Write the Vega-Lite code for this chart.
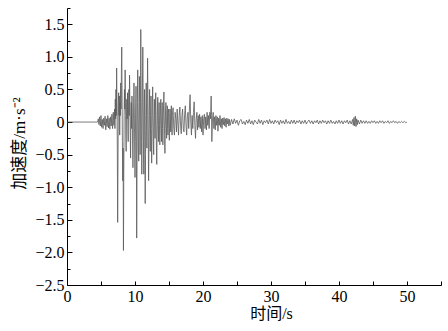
{
  "$schema": "https://vega.github.io/schema/vega-lite/v6.json",
  "width": 374,
  "height": 277,
  "autosize": {"type": "none"},
  "padding": {"left": 67, "top": 8, "right": 7, "bottom": 46},
  "background": "white",
  "config": {"view": {"stroke": null}},
  "data": {"values": [
    {"t":0,"a":0},{"t":4.5,"a":0},{"t":4.6,"a":0.05},{"t":4.7,"a":-0.04},{"t":4.8,"a":0.08},{"t":4.9,"a":-0.06},
    {"t":5.0,"a":0.1},{"t":5.1,"a":-0.08},{"t":5.2,"a":0.04},{"t":5.3,"a":-0.1},{"t":5.4,"a":0.06},{"t":5.5,"a":-0.05},
    {"t":5.6,"a":0.09},{"t":5.7,"a":-0.12},{"t":5.8,"a":0.05},{"t":5.9,"a":-0.07},{"t":6.0,"a":0.1},{"t":6.1,"a":-0.09},
    {"t":6.2,"a":0.06},{"t":6.3,"a":-0.11},{"t":6.4,"a":0.08},{"t":6.5,"a":-0.06},{"t":6.6,"a":0.12},{"t":6.7,"a":-0.1},
    {"t":6.8,"a":0.15},{"t":6.9,"a":-0.05},
    {"t":7.00,"a":0.2},{"t":7.05,"a":-0.1},{"t":7.10,"a":0.35},{"t":7.15,"a":0.05},{"t":7.20,"a":0.5},{"t":7.25,"a":0.1},
    {"t":7.30,"a":0.83},{"t":7.35,"a":0.3},{"t":7.40,"a":-0.4},{"t":7.45,"a":-1.54},{"t":7.50,"a":-0.6},{"t":7.55,"a":0.3},
    {"t":7.60,"a":0.45},{"t":7.65,"a":0.1},{"t":7.70,"a":0.4},{"t":7.75,"a":-0.2},{"t":7.80,"a":0.3},{"t":7.85,"a":0.1},
    {"t":7.90,"a":0.6},{"t":7.95,"a":0.2},{"t":8.00,"a":0.75},{"t":8.05,"a":1.15},{"t":8.10,"a":0.4},{"t":8.15,"a":-0.3},
    {"t":8.20,"a":-0.9},{"t":8.25,"a":-0.4},{"t":8.30,"a":-1.97},{"t":8.35,"a":-0.8},{"t":8.40,"a":0.1},{"t":8.45,"a":0.5},
    {"t":8.50,"a":0.2},{"t":8.55,"a":0.8},{"t":8.60,"a":0.3},{"t":8.65,"a":-0.2},{"t":8.70,"a":-0.45},{"t":8.75,"a":0.1},
    {"t":8.80,"a":0.35},{"t":8.85,"a":0.05},{"t":8.90,"a":0.45},{"t":8.95,"a":-0.1},{"t":9.00,"a":-0.3},{"t":9.05,"a":0.2},
    {"t":9.10,"a":0.5},{"t":9.15,"a":0.1},{"t":9.20,"a":0.72},{"t":9.25,"a":0.25},{"t":9.30,"a":-0.2},{"t":9.35,"a":-0.55},
    {"t":9.40,"a":0.05},{"t":9.45,"a":0.3},{"t":9.50,"a":-0.1},{"t":9.55,"a":0.4},{"t":9.60,"a":0.15},{"t":9.65,"a":-0.35},
    {"t":9.70,"a":-0.7},{"t":9.75,"a":-0.2},{"t":9.80,"a":0.3},{"t":9.85,"a":0.6},{"t":9.90,"a":0.2},{"t":9.95,"a":-0.4},
    {"t":10.00,"a":-0.85},{"t":10.05,"a":-0.3},{"t":10.10,"a":0.2},{"t":10.15,"a":0.55},{"t":10.20,"a":-0.2},{"t":10.25,"a":-1.78},
    {"t":10.30,"a":-0.7},{"t":10.35,"a":0.3},{"t":10.40,"a":0.8},{"t":10.45,"a":0.2},{"t":10.50,"a":-0.4},{"t":10.55,"a":-0.6},
    {"t":10.60,"a":0.1},{"t":10.65,"a":0.7},{"t":10.70,"a":0.3},{"t":10.75,"a":-0.5},{"t":10.80,"a":0.2},{"t":10.85,"a":1.42},
    {"t":10.90,"a":0.6},{"t":10.95,"a":-0.3},{"t":11.00,"a":-0.8},{"t":11.05,"a":-0.2},{"t":11.10,"a":0.6},{"t":11.15,"a":1.15},
    {"t":11.20,"a":0.4},{"t":11.25,"a":-0.5},{"t":11.30,"a":-0.8},{"t":11.35,"a":0.1},{"t":11.40,"a":0.5},{"t":11.45,"a":-0.3},
    {"t":11.50,"a":-1.25},{"t":11.55,"a":-0.5},{"t":11.60,"a":0.2},{"t":11.65,"a":0.6},{"t":11.70,"a":0.1},{"t":11.75,"a":-0.4},
    {"t":11.80,"a":0.3},{"t":11.85,"a":0.98},{"t":11.90,"a":0.4},{"t":11.95,"a":-0.3},{"t":12.00,"a":-0.9},{"t":12.05,"a":-0.4},
    {"t":12.10,"a":0.2},{"t":12.15,"a":0.5},{"t":12.20,"a":0.0},{"t":12.25,"a":-0.45},{"t":12.30,"a":0.1},{"t":12.35,"a":0.4},
    {"t":12.40,"a":-0.1},{"t":12.45,"a":-0.63},{"t":12.50,"a":-0.2},{"t":12.55,"a":0.3},{"t":12.60,"a":0.54},{"t":12.65,"a":0.1},
    {"t":12.70,"a":-0.3},{"t":12.75,"a":-0.5},{"t":12.80,"a":0.0},{"t":12.85,"a":0.35},{"t":12.90,"a":0.1},{"t":12.95,"a":-0.25},
    {"t":13.00,"a":0.2},{"t":13.05,"a":0.45},{"t":13.10,"a":0.05},{"t":13.15,"a":-0.4},{"t":13.20,"a":-0.65},{"t":13.25,"a":-0.2},
    {"t":13.30,"a":0.2},{"t":13.35,"a":0.38},{"t":13.40,"a":0.0},{"t":13.45,"a":-0.3},{"t":13.50,"a":0.1},{"t":13.55,"a":0.3},
    {"t":13.60,"a":-0.05},{"t":13.65,"a":-0.35},{"t":13.70,"a":-0.1},{"t":13.75,"a":0.25},{"t":13.80,"a":0.35},{"t":13.85,"a":-0.05},
    {"t":13.90,"a":-0.3},{"t":13.95,"a":0.05},{"t":14.00,"a":0.3},{"t":14.05,"a":-0.1},{"t":14.10,"a":-0.35},{"t":14.15,"a":0.0},
    {"t":14.20,"a":0.25},{"t":14.25,"a":0.46},{"t":14.30,"a":0.1},{"t":14.35,"a":-0.2},{"t":14.40,"a":-0.48},{"t":14.45,"a":-0.1},
    {"t":14.50,"a":0.2},{"t":14.55,"a":0.3},{"t":14.60,"a":-0.05},{"t":14.65,"a":-0.25},{"t":14.70,"a":0.1},{"t":14.75,"a":0.25},
    {"t":14.80,"a":-0.1},{"t":14.85,"a":-0.2},{"t":14.90,"a":0.15},{"t":14.95,"a":0.2},{"t":15.00,"a":-0.1},{"t":15.05,"a":-0.28},
    {"t":15.10,"a":0.0},{"t":15.15,"a":0.2},{"t":15.20,"a":0.05},{"t":15.25,"a":-0.15},{"t":15.30,"a":0.15},{"t":15.35,"a":0.25},
    {"t":15.40,"a":-0.05},{"t":15.45,"a":-0.2},
    {"t":15.5,"a":0.1},{"t":15.6,"a":0.22},{"t":15.7,"a":-0.1},{"t":15.8,"a":-0.2},{"t":15.9,"a":0.15},{"t":16.0,"a":0.05},
    {"t":16.1,"a":-0.15},{"t":16.2,"a":0.2},{"t":16.3,"a":0.0},{"t":16.4,"a":-0.2},{"t":16.5,"a":0.1},{"t":16.6,"a":0.23},
    {"t":16.7,"a":-0.05},{"t":16.8,"a":-0.18},{"t":16.9,"a":0.1},{"t":17.0,"a":0.2},{"t":17.1,"a":-0.1},{"t":17.2,"a":-0.15},
    {"t":17.3,"a":0.12},{"t":17.4,"a":0.25},{"t":17.5,"a":-0.05},{"t":17.6,"a":-0.2},{"t":17.7,"a":0.1},{"t":17.8,"a":0.15},
    {"t":17.9,"a":-0.1},{"t":18.0,"a":0.2},{"t":18.1,"a":0.42},{"t":18.2,"a":0.0},{"t":18.3,"a":-0.2},{"t":18.4,"a":0.1},
    {"t":18.5,"a":-0.1},{"t":18.6,"a":0.15},{"t":18.7,"a":0.31},{"t":18.8,"a":-0.05},{"t":18.9,"a":-0.25},{"t":19.0,"a":0.05},
    {"t":19.1,"a":0.15},{"t":19.2,"a":-0.12},{"t":19.3,"a":0.1},{"t":19.4,"a":-0.08},{"t":19.5,"a":0.12},{"t":19.6,"a":-0.1},
    {"t":19.7,"a":0.08},{"t":19.8,"a":-0.15},{"t":19.9,"a":0.1},{"t":20.0,"a":-0.2},{"t":20.1,"a":0.05},{"t":20.2,"a":0.12},
    {"t":20.3,"a":-0.1},{"t":20.4,"a":0.08},{"t":20.5,"a":-0.12},{"t":20.6,"a":0.15},{"t":20.7,"a":-0.05},{"t":20.8,"a":0.1},
    {"t":20.9,"a":-0.1},{"t":21.0,"a":0.15},{"t":21.1,"a":0.05},{"t":21.2,"a":0.4},{"t":21.25,"a":0.1},{"t":21.3,"a":-0.3},
    {"t":21.4,"a":0.05},{"t":21.5,"a":0.15},{"t":21.6,"a":-0.1},{"t":21.7,"a":0.08},{"t":21.8,"a":-0.12},{"t":21.9,"a":0.1},
    {"t":22.0,"a":-0.05},{"t":22.1,"a":0.08},{"t":22.2,"a":-0.14},{"t":22.3,"a":0.06},{"t":22.4,"a":-0.05},{"t":22.5,"a":0.1},
    {"t":22.6,"a":-0.08},{"t":22.7,"a":0.05},{"t":22.8,"a":-0.1},{"t":22.9,"a":0.06},{"t":23.0,"a":-0.04},{"t":23.1,"a":0.07},
    {"t":23.2,"a":-0.06},{"t":23.3,"a":0.05},{"t":23.4,"a":-0.08},{"t":23.5,"a":0.06},{"t":23.6,"a":-0.03},{"t":23.7,"a":0.05},
    {"t":23.8,"a":-0.06},{"t":23.9,"a":0.04},{"t":24.0,"a":-0.05},
    {"t":24.2,"a":0.04},{"t":24.4,"a":-0.03},{"t":24.6,"a":0.05},{"t":24.8,"a":-0.02},{"t":25.0,"a":0.03},{"t":25.2,"a":-0.05},
    {"t":25.4,"a":0.02},{"t":25.6,"a":0.04},{"t":25.8,"a":-0.03},{"t":26.0,"a":0.01},{"t":26.2,"a":-0.04},{"t":26.4,"a":0.03},
    {"t":26.6,"a":-0.02},{"t":26.8,"a":0.04},{"t":27.0,"a":-0.03},{"t":27.2,"a":0.02},{"t":27.4,"a":-0.04},{"t":27.6,"a":0.03},
    {"t":27.8,"a":0.0},{"t":28.0,"a":-0.03},{"t":28.2,"a":0.04},{"t":28.4,"a":-0.02},{"t":28.6,"a":0.03},{"t":28.8,"a":-0.04},
    {"t":29.0,"a":0.02},{"t":29.2,"a":-0.01},{"t":29.4,"a":0.03},{"t":29.6,"a":-0.03},{"t":29.8,"a":0.04},{"t":30.0,"a":-0.02},
    {"t":30.2,"a":0.02},{"t":30.4,"a":-0.03},{"t":30.6,"a":0.03},{"t":30.8,"a":-0.01},{"t":31.0,"a":0.02},{"t":31.2,"a":-0.04},
    {"t":31.4,"a":0.03},{"t":31.6,"a":-0.02},{"t":31.8,"a":0.02},{"t":32.0,"a":-0.03},{"t":32.2,"a":0.04},{"t":32.4,"a":-0.02},
    {"t":32.6,"a":0.01},{"t":32.8,"a":-0.03},{"t":33.0,"a":0.03},{"t":33.2,"a":-0.02},{"t":33.4,"a":0.03},{"t":33.6,"a":-0.03},
    {"t":33.8,"a":0.02},{"t":34.0,"a":-0.01},{"t":34.2,"a":0.03},{"t":34.4,"a":-0.03},{"t":34.6,"a":0.02},{"t":34.8,"a":-0.02},
    {"t":35.0,"a":0.03},{"t":35.2,"a":-0.03},{"t":35.4,"a":0.01},{"t":35.6,"a":0.03},{"t":35.8,"a":-0.02},{"t":36.0,"a":0.02},
    {"t":36.2,"a":-0.03},{"t":36.4,"a":0.02},{"t":36.6,"a":-0.01},{"t":36.8,"a":0.03},{"t":37.0,"a":-0.03},{"t":37.2,"a":0.02},
    {"t":37.4,"a":-0.02},{"t":37.6,"a":0.03},{"t":37.8,"a":-0.01},{"t":38.0,"a":0.02},{"t":38.2,"a":-0.03},{"t":38.4,"a":0.02},
    {"t":38.6,"a":-0.02},{"t":38.8,"a":0.03},{"t":39.0,"a":-0.02},{"t":39.2,"a":0.01},{"t":39.4,"a":-0.03},{"t":39.6,"a":0.02},
    {"t":39.8,"a":-0.02},{"t":40.0,"a":0.03},{"t":40.2,"a":-0.02},{"t":40.4,"a":0.02},{"t":40.6,"a":-0.03},{"t":40.8,"a":0.02},
    {"t":41.0,"a":-0.01},{"t":41.2,"a":0.03},{"t":41.4,"a":-0.03},{"t":41.6,"a":0.02},{"t":41.8,"a":-0.03},{"t":42.0,"a":0.04},
    {"t":42.1,"a":-0.05},{"t":42.2,"a":0.07},{"t":42.3,"a":-0.06},{"t":42.4,"a":0.09},{"t":42.5,"a":-0.07},{"t":42.6,"a":0.05},
    {"t":42.7,"a":-0.04},{"t":42.8,"a":0.03},{"t":43.0,"a":-0.03},{"t":43.2,"a":0.03},{"t":43.4,"a":-0.02},{"t":43.6,"a":0.02},
    {"t":43.8,"a":-0.02},{"t":44.0,"a":0.02},{"t":44.2,"a":-0.02},{"t":44.4,"a":0.01},{"t":44.6,"a":-0.02},{"t":44.8,"a":0.02},
    {"t":45.0,"a":-0.01},{"t":45.2,"a":0.02},{"t":45.4,"a":-0.02},{"t":45.6,"a":0.01},{"t":45.8,"a":-0.02},{"t":46.0,"a":0.02},
    {"t":46.2,"a":-0.01},{"t":46.4,"a":0.02},{"t":46.6,"a":-0.02},{"t":46.8,"a":0.01},{"t":47.0,"a":-0.01},{"t":47.2,"a":0.02},
    {"t":47.4,"a":-0.02},{"t":47.6,"a":0.01},{"t":47.8,"a":-0.01},{"t":48.0,"a":0.02},{"t":48.2,"a":-0.01},{"t":48.4,"a":0.01},
    {"t":48.6,"a":-0.02},{"t":48.8,"a":0.01},{"t":49.0,"a":-0.01},{"t":49.2,"a":0.01},{"t":49.4,"a":-0.01},{"t":49.6,"a":0.01},
    {"t":49.8,"a":-0.01},{"t":50.0,"a":0}
  ]},
  "mark": {"type": "line", "color": "#5a5a5a", "strokeWidth": 0.8, "clip": true},
  "encoding": {
    "x": {
      "field": "t", "type": "quantitative",
      "scale": {"domain": [0, 55], "nice": false, "zero": false},
      "axis": {
        "title": "时间/s",
        "values": [0,5,10,15,20,25,30,35,40,45,50,55],
        "labelExpr": "datum.value % 10 == 0 && datum.value <= 50 ? datum.label : ''",
        "format": "d",
        "grid": false,
        "domainColor": "#000000", "domainWidth": 1,
        "tickColor": "#000000", "tickSize": -4, "tickWidth": 1,
        "labelFont": "Liberation Serif", "labelFontSize": 16, "labelColor": "#000000",
        "labelPadding": 7, "labelFlush": false,
        "titleFont": "Liberation Serif, Noto Sans CJK SC", "titleFontSize": 16, "titleFontWeight": "normal", "titleColor": "#000000",
        "titleX": 204, "titleY": 28, "titleBaseline": "middle"
      }
    },
    "y": {
      "field": "a", "type": "quantitative",
      "scale": {"domain": [-2.5, 1.75], "nice": false, "zero": false},
      "axis": {
        "title": "加速度/m·s⁻²",
        "values": [-2.5,-2.25,-2,-1.75,-1.5,-1.25,-1,-0.75,-0.5,-0.25,0,0.25,0.5,0.75,1,1.25,1.5,1.75],
        "labelExpr": "datum.value == 0 ? '0' : (abs(datum.value * 2 - round(datum.value * 2)) < 0.001 && datum.value < 1.6 ? format(datum.value, '.1f') : '')",
        "grid": false,
        "domainColor": "#000000", "domainWidth": 1,
        "tickColor": "#000000", "tickWidth": 1,
        "tickSize": {"condition": {"test": "abs(datum.value * 2 - round(datum.value * 2)) < 0.001", "value": -5}, "value": -3},
        "labelFont": "Liberation Serif", "labelFontSize": 16, "labelColor": "#000000",
        "labelPadding": 8, "labelFlush": false,
        "titleFont": "Liberation Serif, Noto Sans CJK SC", "titleFontSize": 17, "titleFontWeight": "normal", "titleColor": "#000000",
        "titleX": -48, "titleY": 135, "titleBaseline": "middle"
      }
    }
  }
}
